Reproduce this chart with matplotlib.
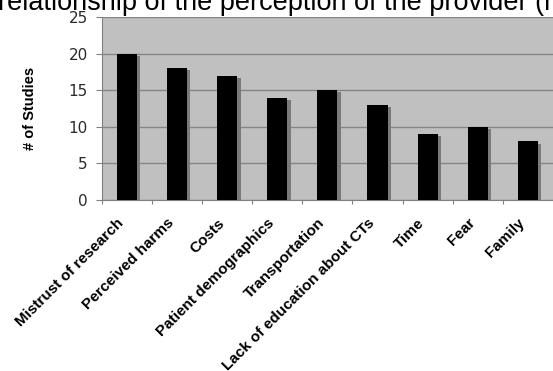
import matplotlib.pyplot as plt
from matplotlib.transforms import ScaledTranslation

# data
categories = ['Mistrust of research', 'Perceived harms', 'Costs', 'Patient demographics',
              'Transportation', 'Lack of education about CTs', 'Time', 'Fear', 'Family']
studies = [20, 18, 17, 14, 15, 13, 9, 10, 8]
y_ticks = [0, 5, 10, 15, 20, 25]


def main():
    fig = plt.figure(figsize=(5.53, 3.71), dpi=100)
    ax = fig.add_axes([0.184, 0.461, 0.816, 0.493])

    x = list(range(len(categories)))
    ax.set_facecolor('#c0c0c0')

    # drop shadow behind the bars
    shadow = ax.transData + ScaledTranslation(2.5 / 72, -1.5 / 72, fig.dpi_scale_trans)
    ax.bar(x, studies, width=0.4, color='#7a7a7a', transform=shadow, zorder=2)
    ax.bar(x, studies, width=0.4, color='black', zorder=3)

    ax.set_xlim(-0.5, len(categories) - 0.5)
    ax.set_ylim(0, 25)
    ax.set_yticks(y_ticks)
    ax.yaxis.grid(True, color='#858585', linewidth=1.0, zorder=1)
    ax.set_axisbelow(True)

    # major ticks sit between categories, labels go on (slightly shifted) minor ticks
    ax.set_xticks([i + 0.5 for i in x[:-1]] + [-0.5], minor=False)
    ax.set_xticklabels([])
    ax.set_xticks([i - 0.1 for i in x], minor=True)
    ax.set_xticklabels(categories, minor=True, rotation=45, ha='right', va='center',
                       rotation_mode='anchor', fontsize=11, fontweight='bold',
                       family='Liberation Sans')
    ax.tick_params(axis='x', which='minor', length=0, pad=15)
    ax.tick_params(axis='x', which='major', length=3, color='#808080')
    ax.tick_params(axis='y', length=4, color='#808080', labelsize=11,
                   labelcolor='#2a2a2a', pad=6)

    for name in ['top', 'right']:
        ax.spines[name].set_visible(False)
    ax.spines['left'].set_color('#808080')
    ax.spines['bottom'].set_color('#808080')

    ax.set_ylabel('# of Studies', fontsize=10.5, fontweight='bold', family='Liberation Sans',
                  labelpad=23)

    fig.text(-0.003, 0.973, 'relationship of the perception of the provider (r',
             fontsize=19.5, family='Liberation Sans', ha='left', va='baseline')

    fig.savefig('out.png', dpi=100)


if __name__ == "__main__":
    main()
